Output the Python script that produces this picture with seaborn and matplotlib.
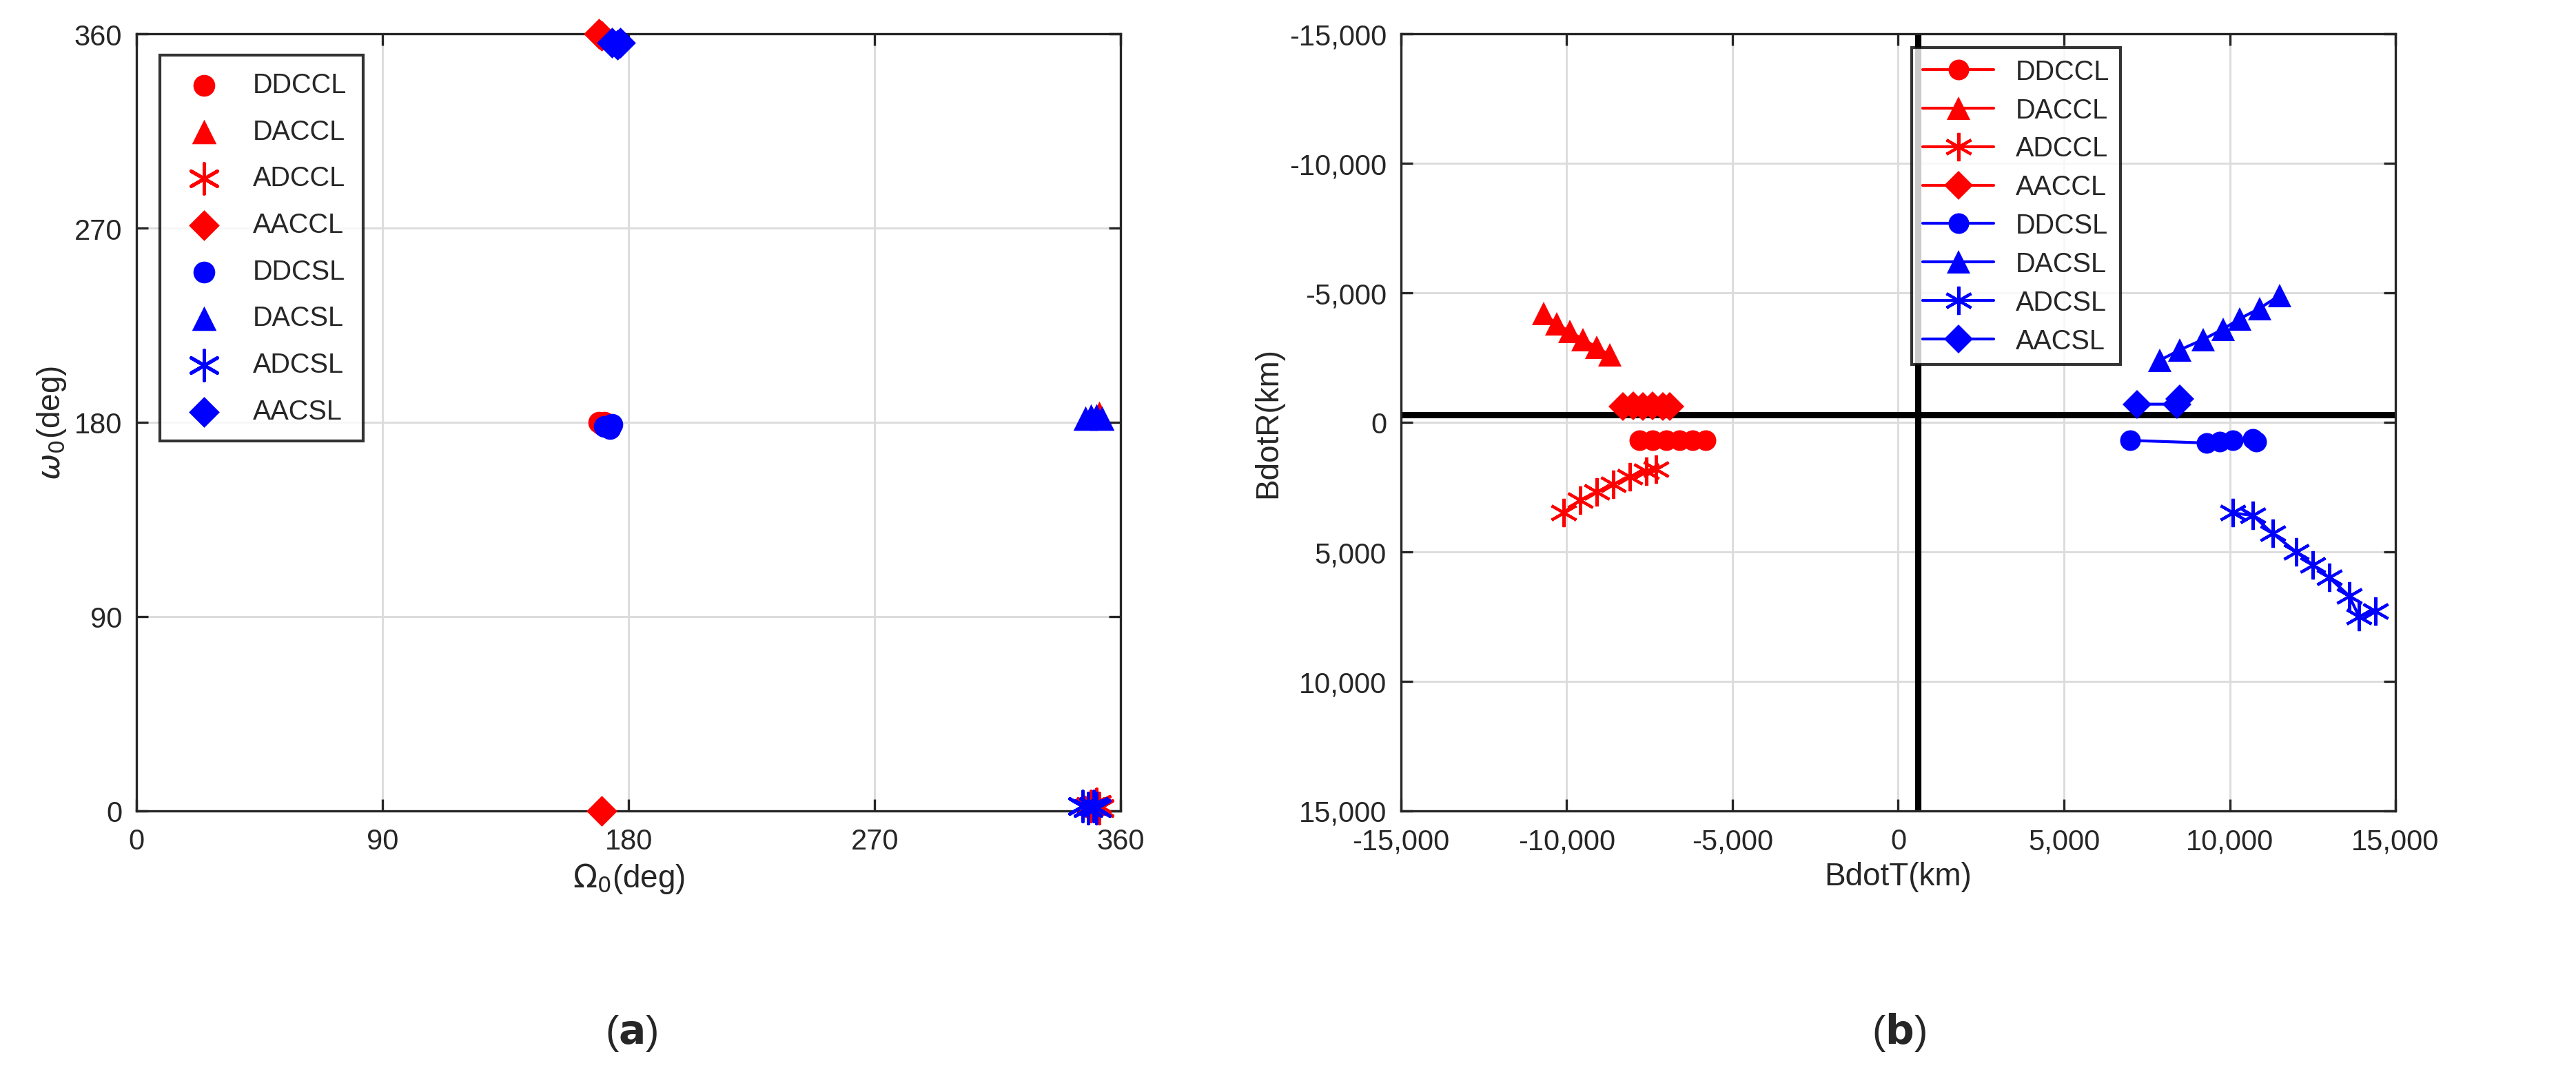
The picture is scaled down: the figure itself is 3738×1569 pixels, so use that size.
import numpy as np
import pandas as pd
import matplotlib
matplotlib.use("Agg")
import matplotlib.pyplot as plt
import seaborn as sns
from matplotlib.ticker import FuncFormatter

# ─── DATA ────────────────────────────────────────────────────────────────────

# (a) launch geometry: Omega0 / omega0 in deg
left_names = ["DDCCL", "DACCL", "ADCCL", "AACCL", "DDCSL", "DACSL", "ADCSL", "AACSL"]
left_raan = [
    [169, 170, 171],            # DDCCL
    [351, 352],                 # DACCL
    [349, 351, 352],            # ADCCL
    [169, 170, 170],            # AACCL
    [171, 173, 174],            # DDCSL
    [347, 349, 351, 353],       # DACSL
    [346, 348, 350, 351],       # ADCSL
    [174, 176, 177],            # AACSL
]
left_argp = [
    [180, 179, 180],
    [183, 184],
    [2, 3, 1],
    [360, 359, 0],
    [178, 177, 179],
    [182, 183, 183, 182],
    [2, 1, 2, 1],
    [356, 355, 356],
]

# (b) B-plane components (km)
right_names = left_names
bdot_t = [
    [-7800, -7400, -7000, -6600, -6200, -5800],                     # DDCCL
    [-10700, -10300, -9900, -9500, -9100, -8700],                   # DACCL
    [-10100, -9600, -9100, -8600, -8100, -7600, -7300],             # ADCCL
    [-8300, -8000, -7700, -7400, -7100, -6900],                     # AACCL
    [7000, 9300, 9700, 10100, 10700, 10800],                        # DDCSL
    [7900, 8500, 9200, 9800, 10300, 10900, 11500],                  # DACSL
    [10100, 10700, 11300, 12000, 12500, 13000, 13600, 13900, 14400],# ADCSL
    [7200, 8400, 8500],                                             # AACSL
]
bdot_r = [
    [700, 700, 700, 700, 700, 700],
    [-4200, -3800, -3500, -3200, -2900, -2600],
    [3500, 3000, 2700, 2400, 2100, 1900, 1800],
    [-600, -650, -600, -650, -600, -600],
    [700, 800, 750, 700, 650, 750],
    [-2400, -2800, -3200, -3600, -4000, -4400, -4900],
    [3500, 3600, 4300, 5000, 5500, 6000, 6700, 7500, 7300],
    [-700, -700, -900],
]
center_t = 600
center_r = -300

markers = ["o", "^", (6, 2, 0), "D"] * 2
colors = ["red"] * 4 + ["blue"] * 4
sizes = [8, 9, 11, 8] * 2

# ─── FIGURE ──────────────────────────────────────────────────────────────────

sns.set_style("white")
plt.rcParams["font.family"] = ["Liberation Sans", "DejaVu Sans"]

fig = plt.figure(figsize=(12.463, 5.233), dpi=300)
ax1 = fig.add_axes([0.053, 0.25, 0.382, 0.718])
ax2 = fig.add_axes([0.5437, 0.25, 0.386, 0.718])

# (a)
for i, name in enumerate(left_names):
    df = pd.DataFrame({"raan": left_raan[i], "argp": left_argp[i]})
    sns.scatterplot(data=df, x="raan", y="argp", ax=ax1, color=colors[i],
                    marker=markers[i], s=sizes[i] ** 2 * 0.9, linewidth=1.2 if i % 4 == 2 else 0,
                    edgecolor=colors[i], label=name, clip_on=False, zorder=3)
ax1.set_xlim(0, 360)
ax1.set_ylim(0, 360)
ax1.set_xticks([0, 90, 180, 270, 360])
ax1.set_yticks([0, 90, 180, 270, 360])
ax1.set_xlabel(r"$\Omega_0$(deg)", fontsize=11, labelpad=2)
ax1.set_ylabel(r"$\omega_0$(deg)", fontsize=11, labelpad=2)
ax1.legend(loc="upper left", fontsize=9.5, frameon=True, fancybox=False,
           edgecolor="black", borderpad=0.6, labelspacing=0.75, handletextpad=0.8,
           bbox_to_anchor=(0.01, 0.99))

# (b)
for i, name in enumerate(right_names):
    df = pd.DataFrame({"t": bdot_t[i], "r": bdot_r[i]})
    sns.lineplot(data=df, x="t", y="r", ax=ax2, sort=False, color=colors[i],
                 marker=markers[i], markersize=sizes[i] * 0.9,
                 markeredgecolor=colors[i], markeredgewidth=1.0 if i % 4 == 2 else 0,
                 linewidth=1.0, label=name, zorder=3)
ax2.axvline(center_t, color="black", linewidth=2.2, zorder=2)
ax2.axhline(center_r, color="black", linewidth=2.2, zorder=2)
ax2.set_xlim(-15000, 15000)
ax2.set_ylim(15000, -15000)
ax2.set_xticks(np.arange(-15000, 15001, 5000))
ax2.set_yticks(np.arange(-15000, 15001, 5000))
fmt = FuncFormatter(lambda v, p: f"{int(v):,}")
ax2.xaxis.set_major_formatter(fmt)
ax2.yaxis.set_major_formatter(fmt)
ax2.set_xlabel("BdotT(km)", fontsize=11, labelpad=2)
ax2.set_ylabel("BdotR(km)", fontsize=11, labelpad=2)
ax2.legend(loc="upper left", fontsize=9.5, frameon=True, fancybox=False,
           edgecolor="black", borderpad=0.4, labelspacing=0.45, handlelength=2.6,
           bbox_to_anchor=(0.5, 1.0))

for ax in (ax1, ax2):
    ax.grid(True, color="#dcdcdc", linewidth=0.7)
    ax.set_axisbelow(True)
    for s in ax.spines.values():
        s.set_color("#262626")
        s.set_linewidth(0.8)
    ax.tick_params(direction="in", length=4, labelsize=10, colors="#262626",
                   top=True, right=True, bottom=True, left=True,
                   labeltop=False, labelright=False)
    ax.tick_params(axis="x", pad=6)
    ax.tick_params(axis="y", pad=5)

fig.text(0.245, 0.035, r"($\mathbf{a}$)", fontsize=14, ha="center")
fig.text(0.737, 0.035, r"($\mathbf{b}$)", fontsize=14, ha="center")

fig.savefig("out.png", dpi=300)
